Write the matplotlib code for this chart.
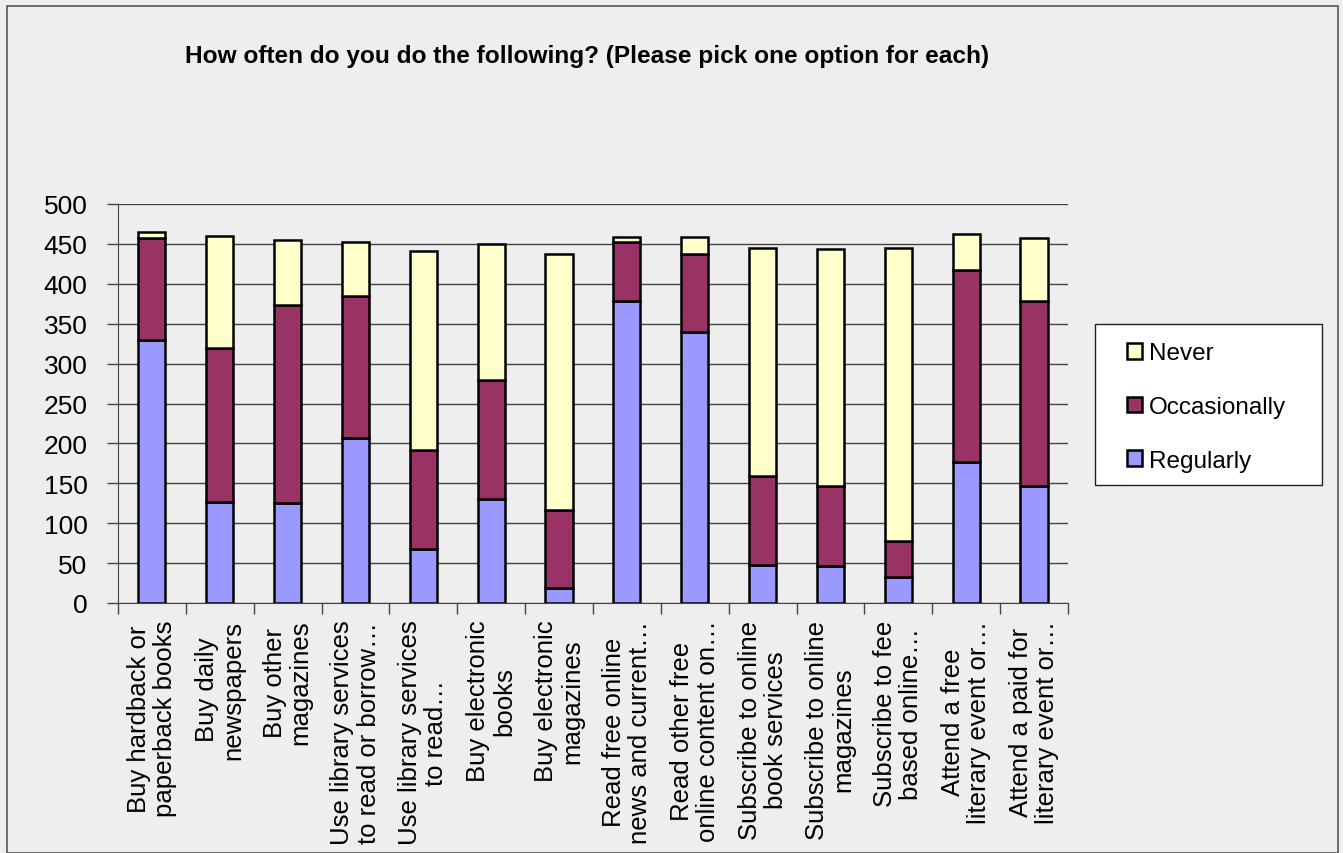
import matplotlib
matplotlib.use("Agg")
import matplotlib.pyplot as plt
from matplotlib.patches import Rectangle
import numpy as np

categories = [
    "Buy hardback or\npaperback books",
    "Buy daily\nnewspapers",
    "Buy other\nmagazines",
    "Use library services\nto read or borrow…",
    "Use library services\nto read…",
    "Buy electronic\nbooks",
    "Buy electronic\nmagazines",
    "Read free online\nnews and current…",
    "Read other free\nonline content on…",
    "Subscribe to online\nbook services",
    "Subscribe to online\nmagazines",
    "Subscribe to fee\nbased online…",
    "Attend a free\nliterary event or…",
    "Attend a paid for\nliterary event or…",
]
regularly = [330, 126, 125, 207, 68, 130, 19, 379, 339, 48, 46, 33, 177, 147]
occasionally = [127, 193, 249, 178, 124, 149, 98, 74, 98, 111, 100, 45, 240, 232]
never = [8, 141, 81, 68, 249, 171, 320, 6, 22, 286, 297, 367, 45, 78]
yticks = [0, 50, 100, 150, 200, 250, 300, 350, 400, 450, 500]
title = "How often do you do the following? (Please pick one option for each)"

plt.rcParams['font.family'] = ['Liberation Sans', 'DejaVu Sans']
bg = '#EEEEEE'
W, H = 1343, 854
fig = plt.figure(figsize=(W / 100, H / 100), dpi=100, facecolor=bg)

# outer chart border
fig.patches.append(Rectangle((7 / W, 0), (1338 - 7) / W, 1 - 7 / H, transform=fig.transFigure,
                             fill=False, edgecolor='#555555', linewidth=1.2))
# legend box
fig.patches.append(Rectangle((1095 / W, 1 - 486 / H), (1322 - 1095) / W, (486 - 325) / H,
                             transform=fig.transFigure, facecolor='white',
                             edgecolor='#222222', linewidth=1.0, zorder=1))

ax = fig.add_axes([118 / W, 1 - 604 / H, (1068 - 118) / W, (604 - 205) / H])
ax.set_facecolor(bg)

x = np.arange(len(categories))
bw = 0.4
ec = 'black'
lw = 1.8
ax.bar(x, regularly, bw, color='#9999FF', edgecolor=ec, linewidth=lw, label='Regularly', zorder=3)
b2 = np.array(regularly)
ax.bar(x, occasionally, bw, bottom=b2, color='#993366', edgecolor=ec, linewidth=lw, label='Occasionally', zorder=3)
b3 = b2 + np.array(occasionally)
ax.bar(x, never, bw, bottom=b3, color='#FFFFCC', edgecolor=ec, linewidth=lw, label='Never', zorder=3)

ax.set_xlim(-0.5, len(categories) - 0.5)
ax.set_ylim(0, 500)
ax.set_yticks(yticks)
ax.set_yticklabels([str(v) for v in yticks], fontsize=19)
ax.yaxis.grid(True, color='#444444', linewidth=1.0, zorder=0)
ax.set_axisbelow(True)
ax.tick_params(axis='y', length=8, width=1, color='#444444', pad=14)

ax.set_xticks(x)
ax.set_xticklabels(categories, rotation=90, fontsize=18.5, multialignment='center',
                   linespacing=1.12)
ax.tick_params(axis='x', which='major', length=0, pad=12)
ax.set_xticks(np.arange(-0.5, len(categories), 1), minor=True)
ax.tick_params(axis='x', which='minor', length=8, width=1, color='#444444')

for s in ['top', 'right']:
    ax.spines[s].set_visible(False)
ax.spines['left'].set_color('#444444')
ax.spines['bottom'].set_color('#444444')

# title
fig.text(587 / W, 1 - 57 / H, title, ha='center', va='center', fontsize=17.6,
         fontweight='bold')

handles, labels = ax.get_legend_handles_labels()
leg = fig.legend(handles[::-1], labels[::-1], loc='center left',
                 bbox_to_anchor=(1127 / W, 1 - 408 / H), bbox_transform=fig.transFigure,
                 fontsize=17.5, frameon=False,
                 handlelength=0.6, handleheight=0.6, handletextpad=0.3,
                 labelspacing=1.3, borderpad=0.0, borderaxespad=0)
leg.set_zorder(5)

fig.savefig('out.png', dpi=100, facecolor=bg)
